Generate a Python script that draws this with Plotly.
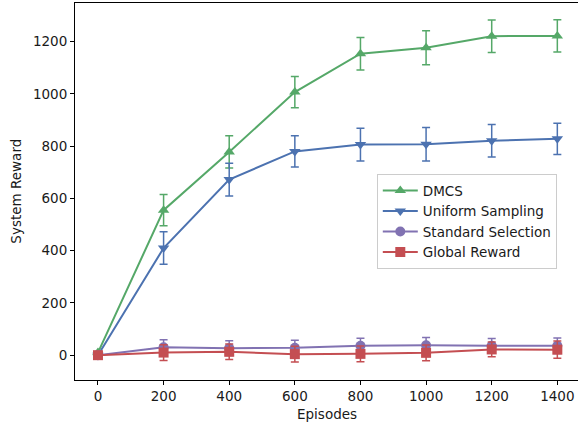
import plotly.graph_objects as go

episodes = [0, 200, 400, 600, 800, 1000, 1200, 1400]

dmcs = [10, 555, 778, 1007, 1154, 1177, 1221, 1222]
dmcs_err = [0, 60, 62, 60, 62, 65, 62, 62]

uniform = [0, 410, 672, 780, 806, 807, 821, 828]
uniform_err = [0, 62, 63, 60, 63, 64, 62, 60]

standard = [0, 30, 27, 28, 36, 38, 36, 36]
standard_err = [0, 29, 28, 29, 29, 30, 28, 30]

global_reward = [0, 10, 13, 4, 5, 9, 22, 21]
global_err = [0, 30, 30, 30, 30, 30, 28, 33]

series = [
    ("DMCS", dmcs, dmcs_err, "#55a868", "triangle-up"),
    ("Uniform Sampling", uniform, uniform_err, "#4c72b0", "triangle-down"),
    ("Standard Selection", standard, standard_err, "#8172b2", "circle"),
    ("Global Reward", global_reward, global_err, "#c44e52", "square"),
]

fig = go.Figure()
for name, vals, errs, color, sym in series:
    fig.add_trace(go.Scatter(
        x=episodes, y=vals, name=name, mode="lines+markers",
        line=dict(color=color, width=2),
        marker=dict(symbol=sym, size=10, color=color),
        error_y=dict(type="data", array=errs, visible=True, color=color,
                     thickness=1.5, width=4),
    ))

font_color = "#1a1a1a"
fig.update_layout(
    width=578, height=425,
    margin=dict(l=75, r=0, t=3, b=45, autoexpand=False),
    paper_bgcolor="white", plot_bgcolor="white",
    font=dict(family="DejaVu Sans", size=13.5, color=font_color),
    showlegend=True,
    legend=dict(
        x=0.600, y=0.546, xanchor="left", yanchor="top",
        bgcolor="rgba(255,255,255,0.8)", bordercolor="#cccccc", borderwidth=1,
        font=dict(size=13.5, color=font_color),
        itemwidth=35, tracegroupgap=0,
    ),
    xaxis=dict(
        range=[-70, 1463], tickvals=episodes,
        ticktext=[str(e) for e in episodes],
        showgrid=False, zeroline=False, automargin=False,
        showline=True, linecolor="black", linewidth=1, mirror=True,
        ticks="outside", ticklen=4, tickcolor="black",
    ),
    yaxis=dict(
        range=[-95, 1348], tickvals=[0, 200, 400, 600, 800, 1000, 1200],
        showgrid=False, zeroline=False, automargin=False,
        showline=True, linecolor="black", linewidth=1,
        ticks="outside", ticklen=4, tickcolor="black",
    ),
    annotations=[
        dict(text="Episodes", xref="paper", yref="paper", x=0.5, y=-0.09,
             xanchor="center", yanchor="middle", showarrow=False,
             font=dict(size=13.5, color=font_color)),
        dict(text="System Reward", xref="paper", yref="paper",
             x=-0.119, y=0.5, xanchor="center", yanchor="middle",
             textangle=-90, showarrow=False,
             font=dict(size=13.5, color=font_color)),
    ],
)

fig.write_html(
    "out.html",
    config={"displayModeBar": False},
    post_script="document.body.style.margin='0px';document.body.style.overflow='hidden';",
)
